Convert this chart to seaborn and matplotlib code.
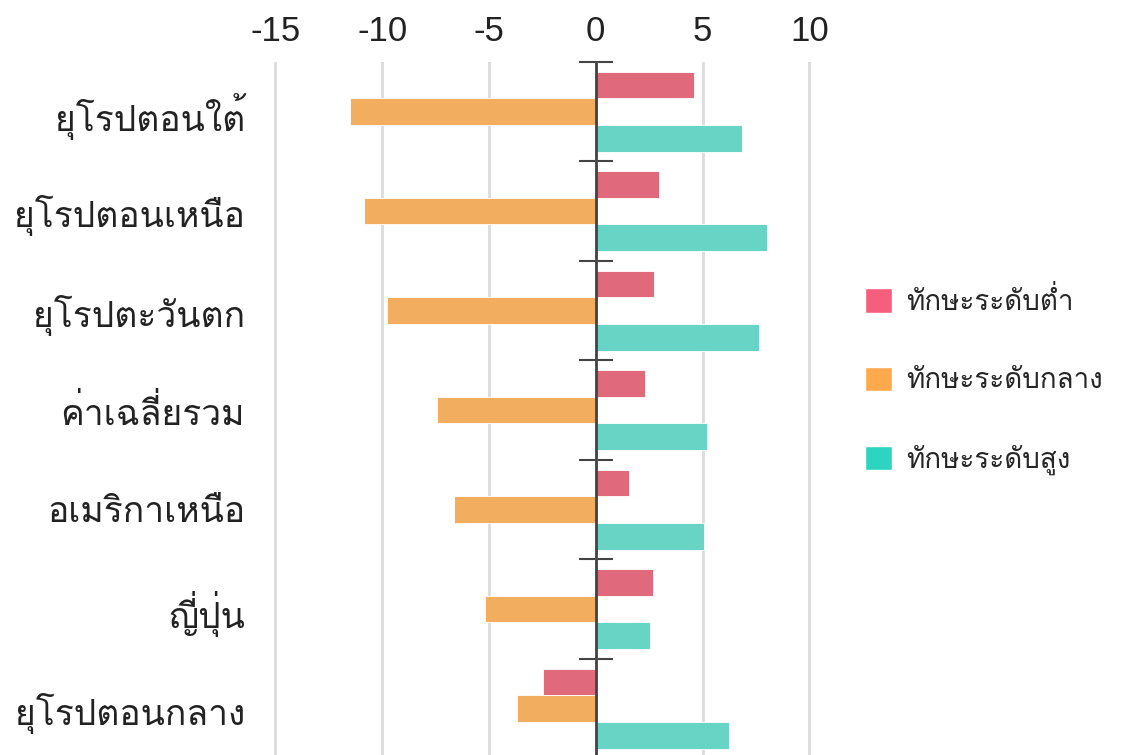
# Thai skills bar chart - diverging horizontal bars per region.
import matplotlib
matplotlib.use('Agg')
import matplotlib.pyplot as plt
from matplotlib.patches import Patch
import seaborn as sns
import pandas as pd
import numpy as np

# Data.
regions = ['ยุโรปตอนใต้', 'ยุโรปตอนเหนือ', 'ยุโรปตะวันตก', 'ค่าเฉลี่ยรวม',
           'อเมริกาเหนือ', 'ญี่ปุ่น', 'ยุโรปตอนกลาง']
levels = ['ทักษะระดับต่ำ', 'ทักษะระดับกลาง', 'ทักษะระดับสูง']
low = [4.61, 2.95, 2.72, 2.33, 1.58, 2.66, -2.48]
mid = [-11.49, -10.85, -9.76, -7.41, -6.62, -5.18, -3.70]
high = [6.84, 8.00, 7.64, 5.23, 5.05, 2.55, 6.26]
x_ticks = [-15, -10, -5, 0, 5, 10]
bar_colors = ['#E0697B', '#F2AE5E', '#68D4C5']
legend_colors = ['#F65E7D', '#FFA94D', '#2DD4C0']

# Long table for seaborn.
df = pd.DataFrame({
    'region': regions * 3,
    'level': [lv for lv in levels for _ in regions],
    'value': low + mid + high})

sns.set_style('white')
# Loma places Thai tone marks without shaping, so they stay visible.
plt.rcParams['font.family'] = ['Loma', 'DejaVu Sans']
plt.rcParams['axes.unicode_minus'] = False

fig = plt.figure(figsize=(11.24, 7.55), dpi=100)
ax = fig.add_axes([0.226, -0.0046, 0.513, 0.9225])

sns.barplot(data=df, y='region', x='value', hue='level', hue_order=levels,
            order=regions, palette=bar_colors, saturation=1, width=0.8,
            orient='h', ax=ax, legend=False, edgecolor='white', linewidth=0.6)

ax.set_xlim(-16, 11)
ax.set_ylim(len(regions) - 0.5, -0.5)
ax.set_xlabel('')
ax.set_ylabel('')
ax.set_xticks(x_ticks)
ax.set_xticklabels([str(t) for t in x_ticks], family=['Liberation Sans'])
ax.xaxis.tick_top()
ax.tick_params(axis='x', length=0, pad=10, labelsize=25, labelcolor='#222222')
ax.tick_params(axis='y', length=0, pad=6.5, labelsize=25.5, labelcolor='#222222')
for s in ax.spines.values():
    s.set_visible(False)
ax.grid(axis='x', color='#dcdcdc', lw=2)
ax.set_axisbelow(True)

# Zero line with ticks at the category boundaries.
ax.axvline(0, color='#444444', lw=2, zorder=4)
x0, x1 = ax.get_xlim()
sec = ax.secondary_yaxis((0 - x0) / (x1 - x0))
sec.set_yticks(np.arange(len(regions) + 1) - 0.5)
sec.set_yticklabels([])
sec.tick_params(direction='inout', length=25, width=1.5, color='#444444')
for s in sec.spines.values():
    s.set_visible(False)

# Legend.
handles = [Patch(facecolor=c, label=l) for c, l in zip(legend_colors, levels)]
fig.legend(handles=handles, loc='center left',
           bbox_to_anchor=(865 / 1124, 1 - 381 / 755), frameon=False,
           fontsize=20, handlelength=0.97, handleheight=0.97, labelspacing=1.82,
           handletextpad=0.5, borderaxespad=0, borderpad=0)

fig.savefig('out.png', dpi=100)
